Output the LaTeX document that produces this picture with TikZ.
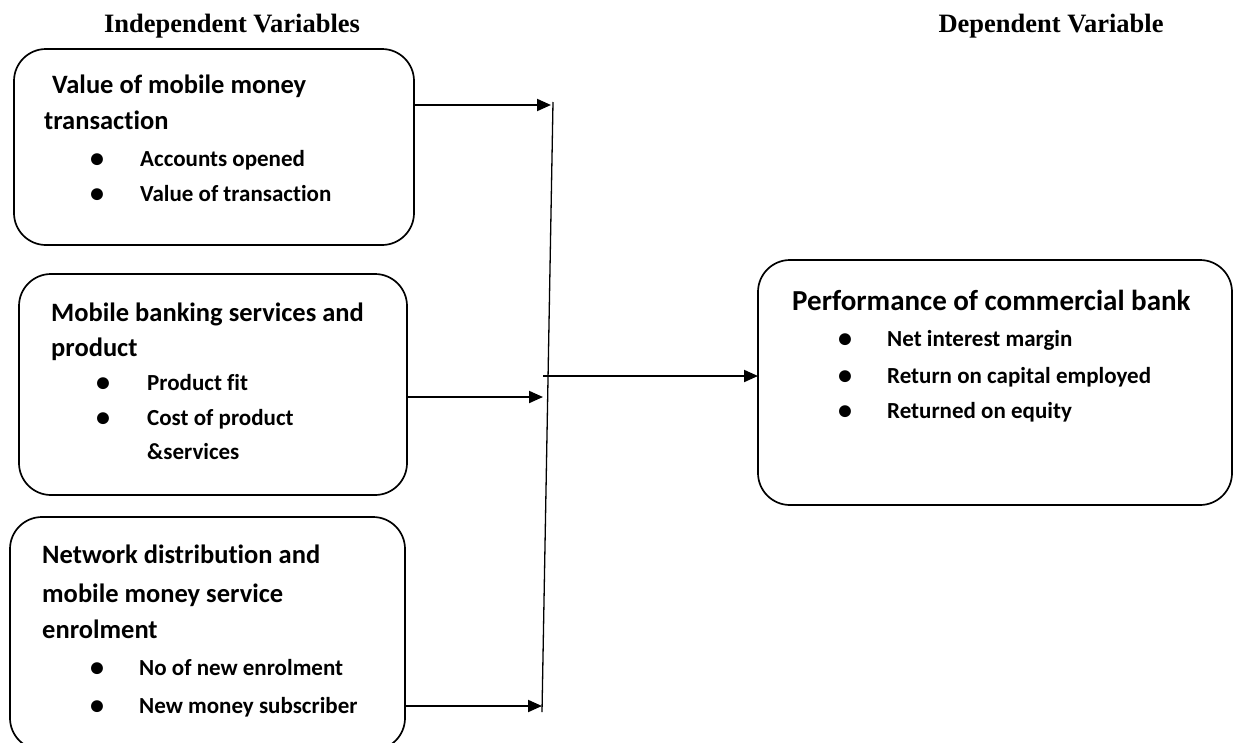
\documentclass[tikz,border=0pt]{standalone}
\usepackage{fontspec}
\setmainfont{Carlito}[Ligatures=NoCommon]
\newfontfamily\headfont{Liberation Serif}
\usetikzlibrary{positioning,arrows.meta}

\tikzset{
  heading/.style={font=\headfont\fontsize{26.5}{30}\selectfont\bfseries, inner sep=0pt},
  varbox/.style={draw, line width=1.7pt, rounded corners=32pt, inner sep=0pt, outer sep=0pt, anchor=north west},
  boxtitle/.style={font=\fontsize{26.5}{30}\selectfont\bfseries, anchor=mid west, inner sep=0pt},
  bigtitle/.style={font=\fontsize{29}{34}\selectfont\bfseries, anchor=mid west, inner sep=0pt},
  dot/.style={font=\fontsize{28}{32}\selectfont\bfseries, anchor=center, inner sep=0pt},
  item/.style={font=\fontsize{23}{28}\selectfont\bfseries, inner sep=0pt, anchor=mid west},
  linkarrow/.style={line width=2pt, -{Triangle[length=14pt,width=12pt]}},
}

\begin{document}
\begin{tikzpicture}[x=1pt,y=-1pt]
\useasboundingbox (0,0) rectangle (1234,742);

% Headings
\node[heading] (indep) at (232,26) {Independent Variables};
\node[heading] (dep) at (1051,26) {Dependent Variable};

% Independent variable boxes
\node[varbox, minimum width=400pt, minimum height=196pt] (mmval) at (14,49) {};
\node[boxtitle] (mmval1) at (52,91) {Value of mobile money};
\node[boxtitle] (mmval2) at (44,127) {transaction};
\node[dot] (b11) at (97,161) {•};
\node[item] (i11) at (140,164) {Accounts opened};
\node[dot] (b12) at (97,196) {•};
\node[item] (i12) at (140,199) {Value of transaction};

\node[varbox, minimum width=388pt, minimum height=221pt] (mbank) at (19,274) {};
\node[boxtitle] (mbank1) at (51,319) {Mobile banking services and};
\node[boxtitle] (mbank2) at (51,354) {product};
\node[dot] (b21) at (103,385) {•};
\node[item] (i21) at (147,388) {Product fit};
\node[dot] (b22) at (103,420) {•};
\node[item] (i22) at (147,423) {Cost of product};
\node[item] (i23) at (147,457) {\&services};

\node[varbox, minimum width=395pt, minimum height=233pt] (netw) at (10,517) {};
\node[boxtitle] (netw1) at (42,561) {Network distribution and};
\node[boxtitle] (netw2) at (42,600) {mobile money service};
\node[boxtitle] (netw3) at (42,636) {enrolment};
\node[dot] (b31) at (97,670) {•};
\node[item] (i31) at (139,673) {No of new enrolment};
\node[dot] (b32) at (97,708) {•};
\node[item] (i32) at (139,711) {New money subscriber};

% Dependent variable box
\node[varbox, minimum width=474pt, minimum height=245pt] (perf) at (758,260) {};
\node[bigtitle] (perf1) at (792,308) {Performance of commercial bank};
\node[dot] (b41) at (845,341) {•};
\node[item] (i41) at (887,344) {Net interest margin};
\node[dot] (b42) at (845,378) {•};
\node[item] (i42) at (887,381) {Return on capital employed};
\node[dot] (b43) at (845,413) {•};
\node[item] (i43) at (887,416) {Returned on equity};

% Collecting line and arrows
\coordinate (bartop) at (553,102);
\coordinate (barbot) at (542,712);
\coordinate (in1) at (551,105);
\coordinate (in2) at (543,397);
\coordinate (in3) at (542,706);
\coordinate (out) at (543,376);
\draw[line width=1.3pt] (bartop) -- (barbot);
\draw[linkarrow] (mmval.east |- in1) -- (in1);
\draw[linkarrow] (mbank.east |- in2) -- (in2);
\draw[linkarrow] (netw.east |- in3) -- (in3);
\draw[linkarrow] (out) -- (out -| perf.west);
\end{tikzpicture}
\end{document}
